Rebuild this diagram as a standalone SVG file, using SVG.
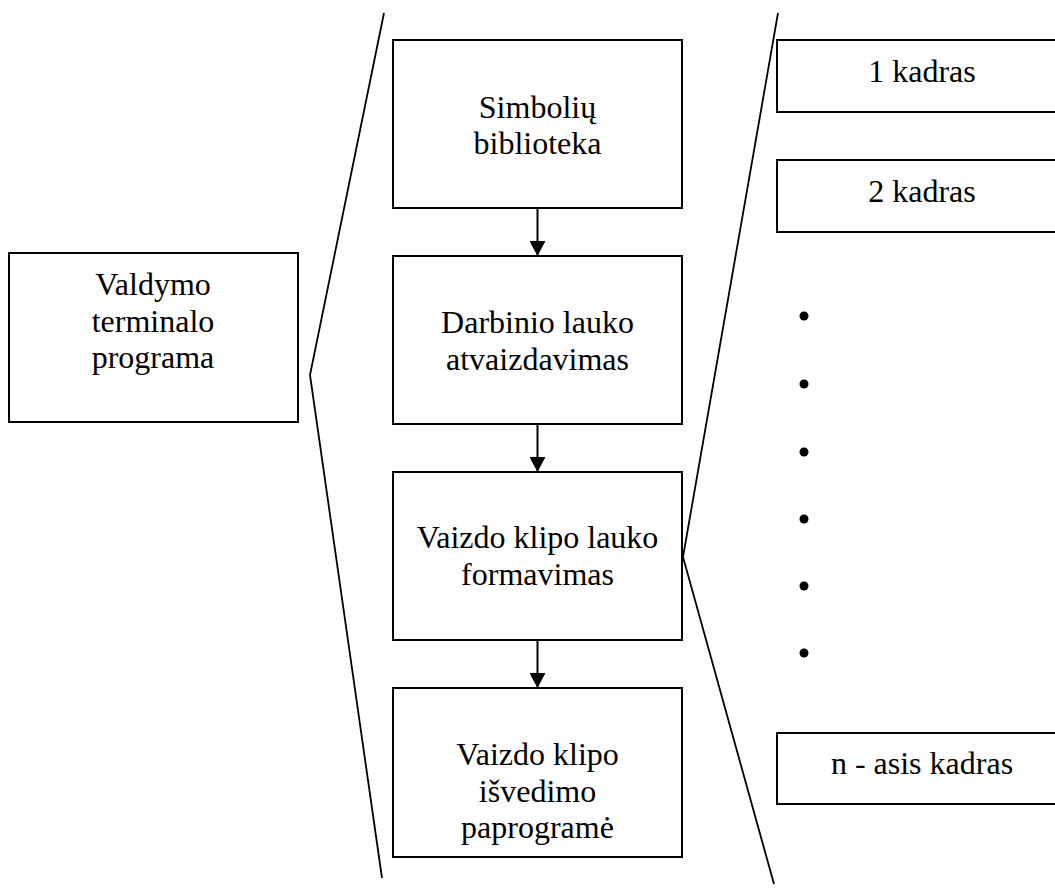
<svg xmlns="http://www.w3.org/2000/svg" width="1055" height="894" viewBox="0 0 1055 894">
  <style>
    .box { fill: #ffffff; stroke: #000000; stroke-width: 2; }
    .lbl { font-size: 32px; fill: #000000; text-anchor: middle; }
    .brace { fill: none; stroke: #000000; stroke-width: 1.8; stroke-linejoin: miter; }
    .flow { fill: none; stroke: #000000; stroke-width: 2; }
    .dot { fill: #000000; }
  </style>
  <defs>
    <marker id="arrowhead" markerUnits="userSpaceOnUse" viewBox="0 0 15 16" refX="15" refY="8" markerWidth="15" markerHeight="16" orient="auto">
      <path d="M0 0 L15 8 L0 16 Z" fill="#000000"/>
    </marker>
  </defs>
  <rect width="1055" height="894" fill="#ffffff"/>

  <!-- main program block -->
  <g id="node-valdymo" style="font-family: 'Liberation Serif', serif">
    <rect class="box" x="9" y="253" width="289" height="169"/>
    <text class="lbl" x="153" y="295">Valdymo</text>
    <text class="lbl" x="153" y="331.5">terminalo</text>
    <text class="lbl" x="153" y="368">programa</text>
  </g>

  <!-- module column -->
  <g id="node-simboliu" style="font-family: 'Liberation Serif', serif">
    <rect class="box" x="393" y="40" width="289" height="168"/>
    <text class="lbl" x="537.5" y="118">Simbolių</text>
    <text class="lbl" x="537.5" y="154">biblioteka</text>
  </g>
  <g id="node-darbinio" style="font-family: 'Liberation Serif', serif">
    <rect class="box" x="393" y="256" width="289" height="168"/>
    <text class="lbl" x="537.5" y="333">Darbinio lauko</text>
    <text class="lbl" x="537.5" y="370">atvaizdavimas</text>
  </g>
  <g id="node-formavimas" style="font-family: 'Liberation Serif', serif">
    <rect class="box" x="393" y="472" width="289" height="168"/>
    <text class="lbl" x="537.5" y="548">Vaizdo klipo lauko</text>
    <text class="lbl" x="537.5" y="585">formavimas</text>
  </g>
  <g id="node-isvedimo" style="font-family: 'Liberation Serif', serif">
    <rect class="box" x="393" y="688" width="289" height="169"/>
    <text class="lbl" x="537.5" y="765">Vaizdo klipo</text>
    <text class="lbl" x="537.5" y="802">išvedimo</text>
    <text class="lbl" x="537.5" y="838">paprogramė</text>
  </g>

  <!-- frame list -->
  <g id="node-kadras-1" style="font-family: 'Liberation Serif', serif">
    <rect class="box" x="777" y="40" width="290" height="72"/>
    <text class="lbl" x="922" y="82">1 kadras</text>
  </g>
  <g id="node-kadras-2" style="font-family: 'Liberation Serif', serif">
    <rect class="box" x="777" y="160" width="290" height="72"/>
    <text class="lbl" x="922" y="202">2 kadras</text>
  </g>
  <g id="node-ellipsis">
    <circle class="dot" cx="804" cy="316" r="4.5"/>
    <circle class="dot" cx="804" cy="384" r="4.5"/>
    <circle class="dot" cx="804" cy="452" r="4.5"/>
    <circle class="dot" cx="804" cy="519" r="4.5"/>
    <circle class="dot" cx="804" cy="586" r="4.5"/>
    <circle class="dot" cx="804" cy="653" r="4.5"/>
  </g>
  <g id="node-kadras-n" style="font-family: 'Liberation Serif', serif">
    <rect class="box" x="777" y="733" width="290" height="71"/>
    <text class="lbl" x="922" y="774">n - asis kadras</text>
  </g>

  <!-- connectors -->
  <g id="connectors">
    <polyline class="brace" points="384,13 310,375 382,878"/>
    <polyline class="brace" points="778,13 683,557 774,884"/>
    <line class="flow" x1="537.5" y1="208" x2="537.5" y2="256" marker-end="url(#arrowhead)"/>
    <line class="flow" x1="537.5" y1="424" x2="537.5" y2="472" marker-end="url(#arrowhead)"/>
    <line class="flow" x1="537.5" y1="640" x2="537.5" y2="688" marker-end="url(#arrowhead)"/>
  </g>
</svg>
